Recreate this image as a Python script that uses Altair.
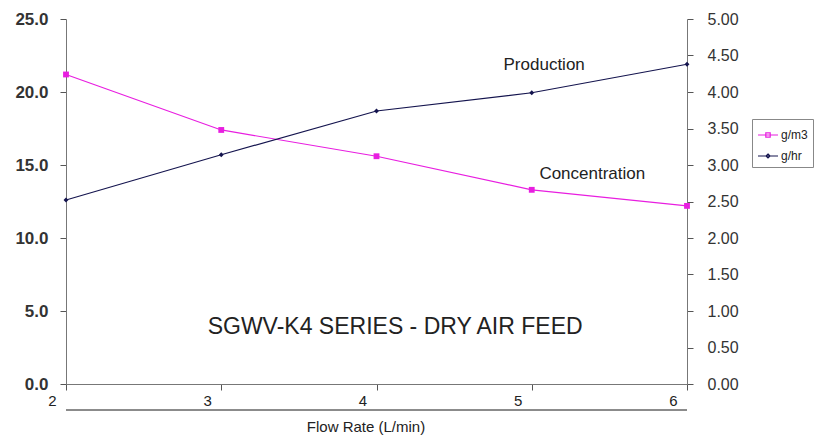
import altair as alt
import pandas as pd

flow = [2, 3, 4, 5, 6]
conc = [21.2, 17.4, 15.6, 13.3, 12.2]     # g/m3, left axis
prod = [2.52, 3.14, 3.74, 3.99, 4.38]     # g/hr, right axis

series = ["g/m3", "g/hr"]
colors = ["#E81EE0", "#14144E"]

left_ticks = [0, 5, 10, 15, 20, 25]
right_ticks = [0.0, 0.5, 1.0, 1.5, 2.0, 2.5, 3.0, 3.5, 4.0, 4.5, 5.0]

ann_left = ["Concentration", "SGWV-K4 SERIES - DRY AIR FEED"]
ann_left_x = [5.39, 4.12]
ann_left_y = [14.4, 3.9]
ann_left_size = [17, 23]
ann_right = ["Production"]
ann_right_x = [5.08]
ann_right_y = [4.37]

W, H = 621, 365
FONT = "Liberation Sans"

df = pd.DataFrame({"flow": flow, "conc": conc, "prod": prod})
ann_l = pd.DataFrame({"t": ann_left, "x": ann_left_x, "y": ann_left_y, "s": ann_left_size})
ann_r = pd.DataFrame({"t": ann_right, "x": ann_right_x, "y": ann_right_y})
leg = pd.DataFrame({"series": series})

xscale = alt.Scale(domain=[2, 6], nice=False, zero=False)
xaxis = alt.Axis(values=flow, format="d", title="Flow Rate (L/min)",
                 grid=False, domainColor="#777", tickColor="#555",
                 tickSize=6, labelOffset=-14, labelFlush=False, labelPadding=3,
                 labelFontSize=15, labelColor="#222", labelOverlap=False,
                 labelFont=FONT, titleFont=FONT, titleFontSize=15, titleX=W / 2 - 11,
                 titleFontWeight="normal", titleColor="#222", titlePadding=11)

yl_scale = alt.Scale(domain=[0, 25], nice=False)
yr_scale = alt.Scale(domain=[0, 5], nice=False)

yl_axis = alt.Axis(values=left_ticks, format=".1f", title=None, grid=False,
                   orient="left", domainColor="#777", tickColor="#555", tickSize=6,
                   labelPadding=12, labelFontSize=17, labelFontWeight="bold",
                   labelOverlap=False, labelColor="#333", labelFont=FONT)
yr_axis = alt.Axis(values=right_ticks, format=".2f", tickCount=11,
                   title=None, grid=False, orient="right", domainColor="#777",
                   tickColor="#555", tickSize=6, labelPadding=14, labelFontSize=16,
                   labelOverlap=False, labelColor="#333", labelFont=FONT)


def X(field):
    return alt.X(field, scale=xscale, axis=xaxis)


def YL(field):
    return alt.Y(field, scale=yl_scale, axis=yl_axis)


def YR(field):
    return alt.Y(field, scale=yr_scale, axis=yr_axis)


base = alt.Chart(df)

line_c = base.mark_line(color=colors[0], strokeWidth=1.2).encode(x=X("flow:Q"), y=YL("conc:Q"))
pt_c = base.mark_point(shape="square", filled=True, color=colors[0], size=34, opacity=1).encode(
    x=X("flow:Q"), y=YL("conc:Q"))
txt_c = alt.Chart(ann_l).mark_text(font=FONT, color="#222").encode(
    x=X("x:Q"), y=YL("y:Q"), text="t:N", size=alt.Size("s:Q", scale=None, legend=None))

line_p = base.mark_line(color=colors[1], strokeWidth=1.2).encode(x=X("flow:Q"), y=YR("prod:Q"))
pt_p = base.mark_point(shape="diamond", filled=True, color=colors[1], size=24, opacity=1).encode(
    x=X("flow:Q"), y=YR("prod:Q"))
txt_p = alt.Chart(ann_r).mark_text(font=FONT, fontSize=17, color="#222").encode(
    x=X("x:Q"), y=YR("y:Q"), text="t:N")

legend_layer = alt.Chart(leg).transform_filter("false").mark_point(filled=False, opacity=1).encode(
    color=alt.Color("series:N", scale=alt.Scale(domain=series, range=colors),
                    legend=alt.Legend(title=None, orient="none", legendX=686, legendY=100,
                                      strokeColor="#888", padding=5, labelFontSize=12,
                                      labelFont=FONT, labelColor="#222", symbolSize=400,
                                      symbolStrokeWidth=1.2, rowPadding=4, labelOffset=2)),
    shape=alt.Shape("series:N", scale=alt.Scale(
        domain=series,
        range=["M-1,0H1M-0.22,-0.22H0.22V0.22H-0.22Z",
               "M-1,0H1M0,-0.2L0.2,0L0,0.2L-0.2,0Z"])))

bottom_rule = alt.Chart(df).mark_rule(color="#888", strokeWidth=1).encode(
    x=alt.value(0), x2=alt.value(W), y=alt.value(H + 26))

left = alt.layer(line_c, pt_c, txt_c)
right = alt.layer(line_p, pt_p, txt_p)

chart = alt.layer(left, right, legend_layer, bottom_rule).resolve_scale(
    y="independent").properties(
    width=W, height=H,
    autosize=alt.AutoSizeParams(type="none"),
    padding={"left": 58, "top": 11, "right": 127, "bottom": 54},
    background="white",
).configure_view(stroke=None)

chart.save("out.html", embed_options={"renderer": "svg", "actions": False})
